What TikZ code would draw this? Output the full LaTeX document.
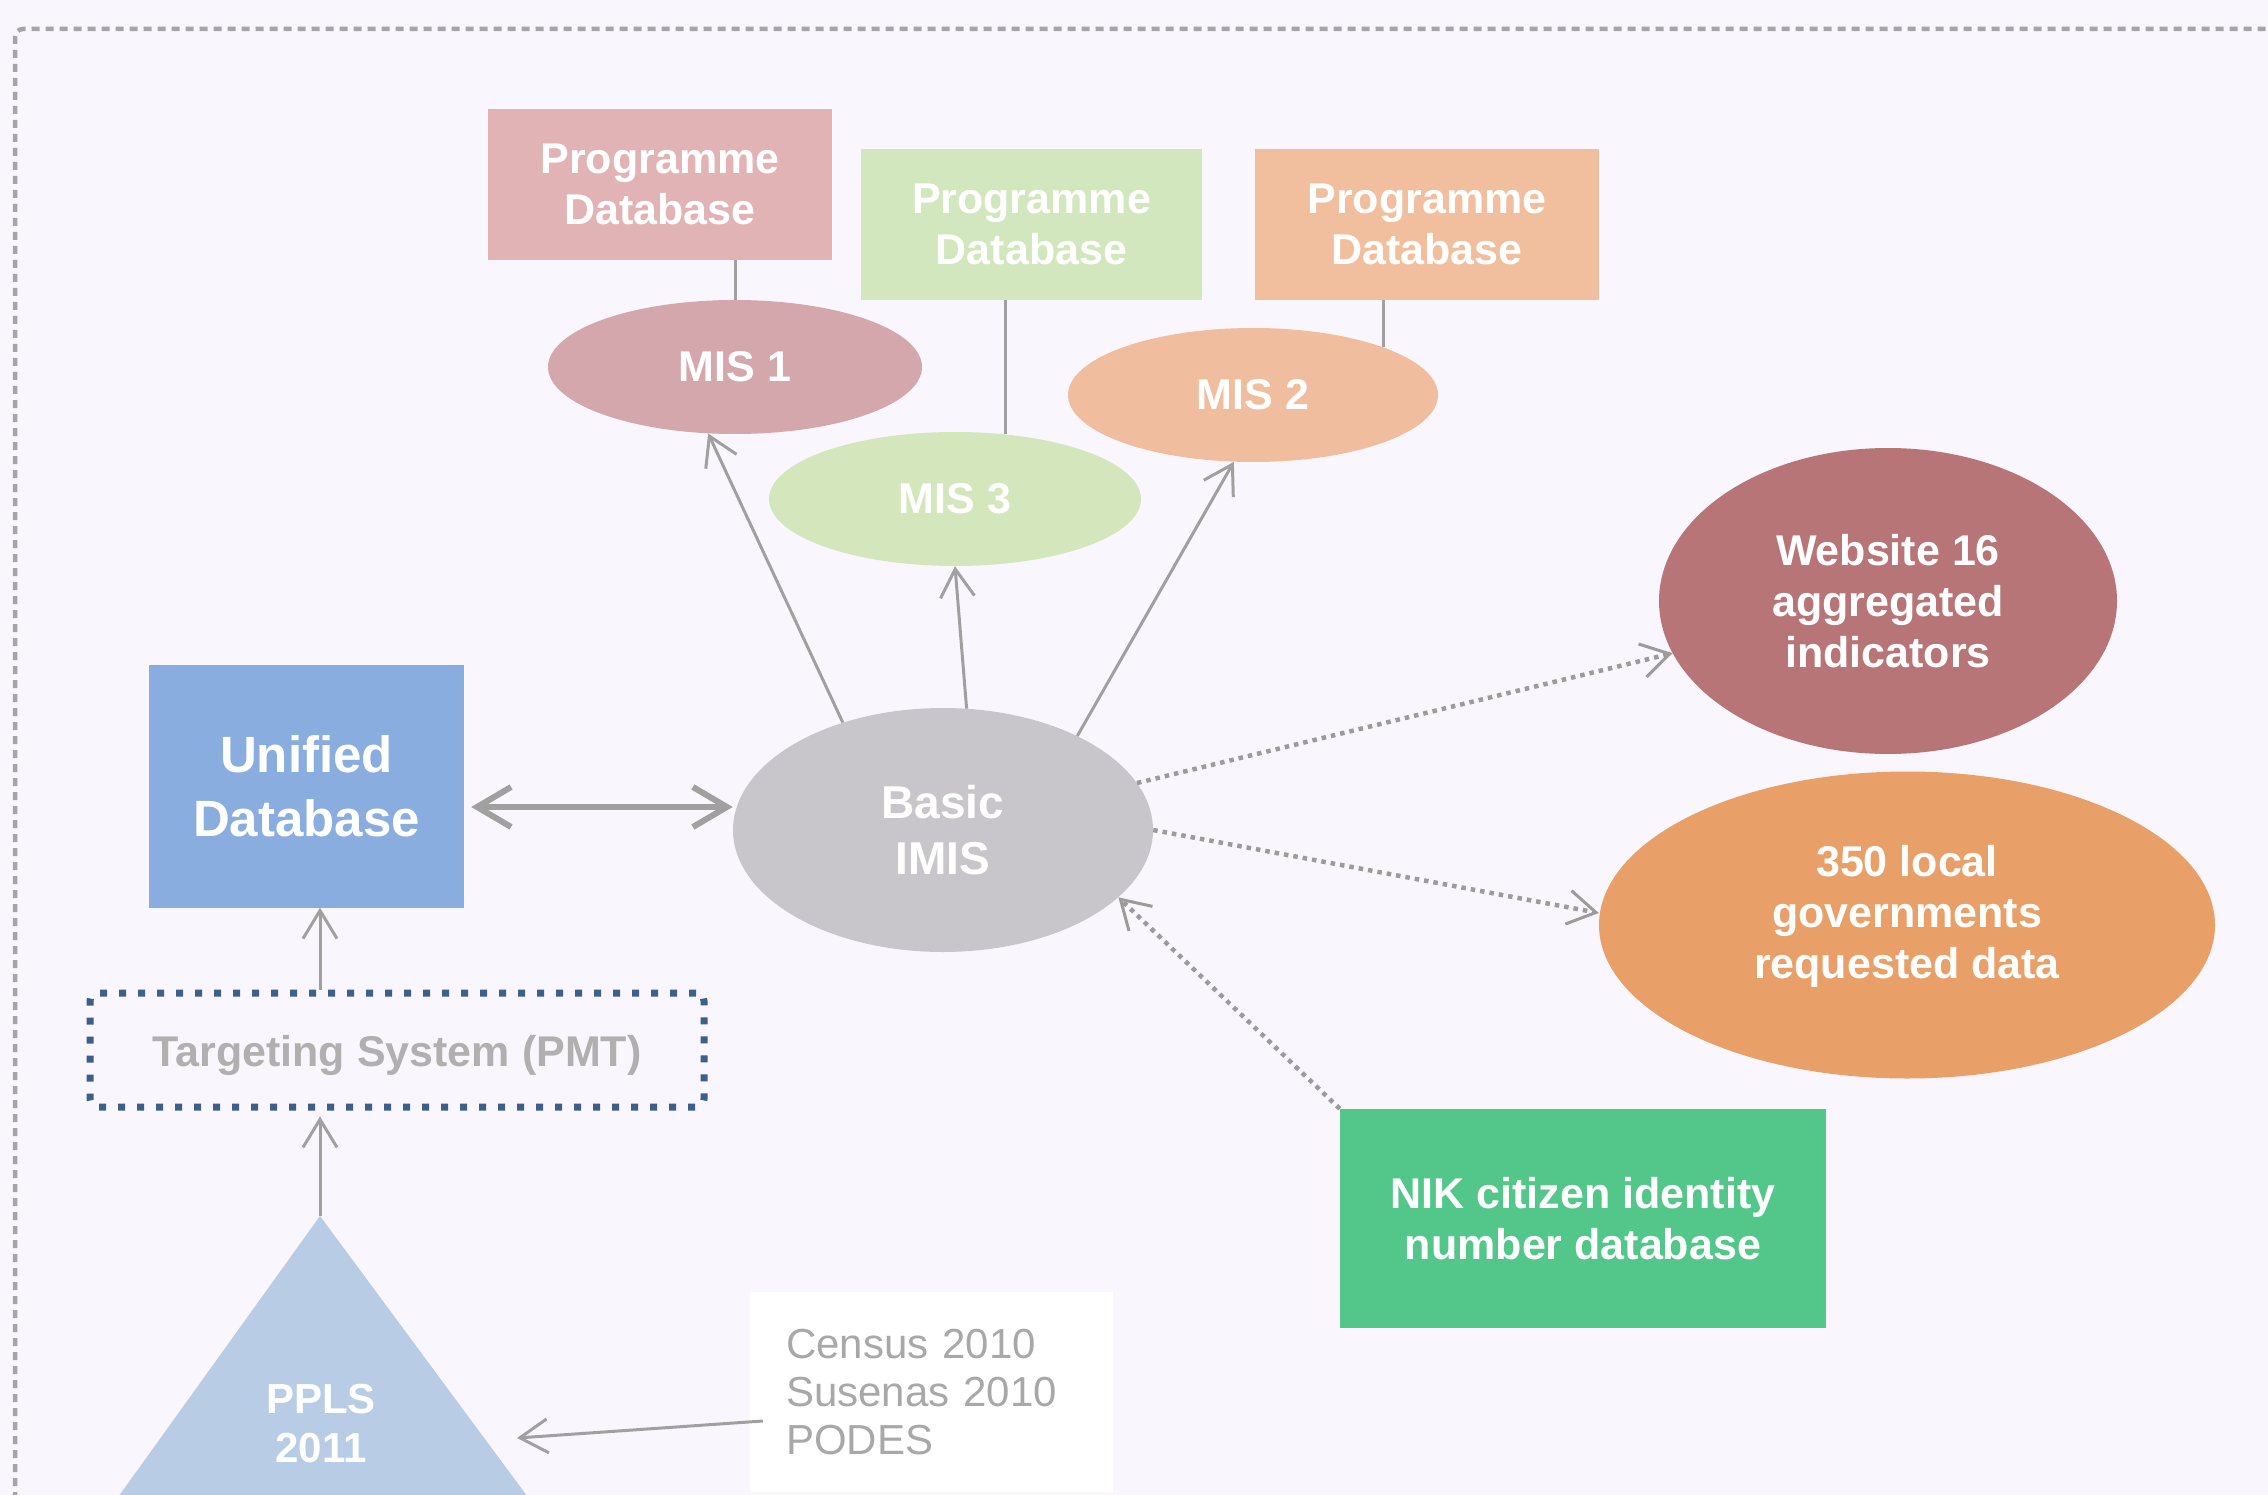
\documentclass[tikz,border=0pt]{standalone}
\usepackage{fontspec}
\setmainfont{Liberation Sans}
\usetikzlibrary{shapes.geometric,arrows.meta,calc}
\definecolor{bgc}{RGB}{250,246,254}
\definecolor{bordc}{RGB}{165,165,165}
\definecolor{pdone}{RGB}{225,179,181}
\definecolor{misone}{RGB}{211,167,172}
\definecolor{pdtwo}{RGB}{211,231,190}
\definecolor{misthree}{RGB}{211,230,188}
\definecolor{pdthree}{RGB}{241,190,158}
\definecolor{mistwo}{RGB}{240,190,158}
\definecolor{webc}{RGB}{183,117,120}
\definecolor{locc}{RGB}{233,160,104}
\definecolor{nikc}{RGB}{83,199,138}
\definecolor{unic}{RGB}{138,173,224}
\definecolor{basicc}{RGB}{200,198,203}
\definecolor{tric}{RGB}{184,205,229}
\definecolor{pmtc}{RGB}{60,95,140}
\definecolor{lgray}{RGB}{160,160,160}
\definecolor{dgray}{RGB}{155,155,155}
\definecolor{tgray}{RGB}{176,176,176}
\definecolor{cgray}{RGB}{168,168,168}
\begin{document}
\begin{tikzpicture}[x=1pt,y=-1pt,
  txt/.style={font=\bfseries\fontsize{43}{51}\selectfont, text=white, align=center, inner sep=0pt},
  pbox/.style={txt, rectangle, minimum width=344pt, minimum height=151pt},
  mis/.style={txt, ellipse, minimum width=372pt, minimum height=134pt},
  conn/.style={draw=lgray, line width=3pt},
  arr/.style={conn, -{Straight Barb[length=28pt,width=34pt]}},
  dotarr/.style={draw=dgray, line width=4.5pt, dash pattern=on 4.5pt off 5pt, -{Straight Barb[length=28pt,width=34pt,line width=3pt]}},
  dbl/.style={draw=lgray, line width=6pt, {Straight Barb[length=34pt,width=40pt]}-{Straight Barb[length=34pt,width=40pt]}},
]
\fill[bgc] (0,0) rectangle (2268,1495);
\useasboundingbox (0,0) rectangle (2268,1495);
% outer dashed frame
\draw[bordc, line width=4.5pt, dash pattern=on 8pt off 6pt, rounded corners=8pt] (15,1500) -- (15,29) -- (2280,29);

% programme databases
\node[pbox, fill=pdone] (pd1) at (660,184.5) {Programme\\Database};
\node[pbox, fill=pdtwo, minimum width=341pt] (pd2) at (1031.5,224.5) {Programme\\Database};
\node[pbox, fill=pdthree] (pd3) at (1427,224.5) {Programme\\Database};

% MIS ellipses
\node[mis, fill=misone, minimum width=374pt] (mis1) at (735,367) {MIS 1};
\node[mis, fill=misthree] (mis3) at (955,499) {MIS 3};
\node[mis, fill=mistwo, minimum width=370pt] (mis2) at (1253,395) {MIS 2};

\draw[conn] (mis1.north) -- (mis1.north |- pd1.south);
\draw[conn] (mis3.52) -- (mis3.52 |- pd2.south);
\draw[conn] (mis2.20) -- (mis2.20 |- pd3.south);

% central nodes
\node[txt, ellipse, fill=basicc, minimum width=420pt, minimum height=244pt,
      font=\bfseries\fontsize{46}{56}\selectfont] (basic) at (943,830) {Basic\\IMIS};
\node[txt, rectangle, fill=unic, minimum width=315pt, minimum height=243pt,
      font=\bfseries\fontsize{51}{64}\selectfont] (uni) at (306.5,786) {Unified\\Database};
\node[rectangle, draw=pmtc, line width=7pt, dash pattern=on 7pt off 12pt, rounded corners=8pt,
      minimum width=614pt, minimum height=114pt, inner sep=0pt, text height=41pt, text depth=9pt,
      font=\bfseries\fontsize{43}{51}\selectfont, text=tgray] (pmt) at (397,1050) {Targeting System (PMT)};

% triangle PPLS
\coordinate (apex) at (320,1216);
\fill[tric] (apex) -- (116,1500) -- (530,1500) -- cycle;
\node[txt, font=\bfseries\fontsize{42}{49}\selectfont] (ppls) at (321,1424) {PPLS\\2011};

% census box
\node[rectangle, fill=white, minimum height=200pt, inner xsep=36pt, inner ysep=0pt,
      text width=291pt, align=left, text=cgray, font=\fontsize{42}{48}\selectfont]
      (census) at (931.5,1392) {Census 2010\\Susenas 2010\\PODES};

% right-hand nodes
\node[txt, ellipse, fill=webc, minimum width=458pt, minimum height=306pt] (web) at (1888,601) {Website 16\\aggregated\\indicators};
\node[txt, ellipse, fill=locc, minimum width=616pt, minimum height=307pt, text depth=27pt] (loc) at (1907,925) {350 local\\governments\\requested data};
\node[txt, rectangle, fill=nikc, minimum width=486pt, minimum height=219pt] (nik) at (1583,1218.5) {NIK citizen identity\\number database};

% arrows to MIS
\draw[arr] (basic.133) -- (mis1.-112);
\draw[arr] (basic.79) -- (mis3.south);
\draw[arr] (basic.35) -- (mis2.-106);

% unified <-> basic
\coordinate (dmid) at (0,807);
\draw[dbl, shorten <=7pt] (uni.east |- dmid) -- (basic.west |- dmid);

% vertical arrows
\draw[arr, shorten >=6pt] (apex) -- (apex |- pmt.south);
\draw[arr] (apex |- pmt.north) -- (apex |- uni.south);

% census arrow
\coordinate (ctip) at (517,1438);
\draw[arr] ([shift={(13,29)}]census.west) -- (ctip);

% dotted arrows
\draw[dotarr] (basic) -- (web);
\draw[dotarr] (basic.east) -- ([yshift=12pt]loc.west);
\draw[dotarr] (nik.north west) -- (basic.-21);
\end{tikzpicture}
\end{document}
